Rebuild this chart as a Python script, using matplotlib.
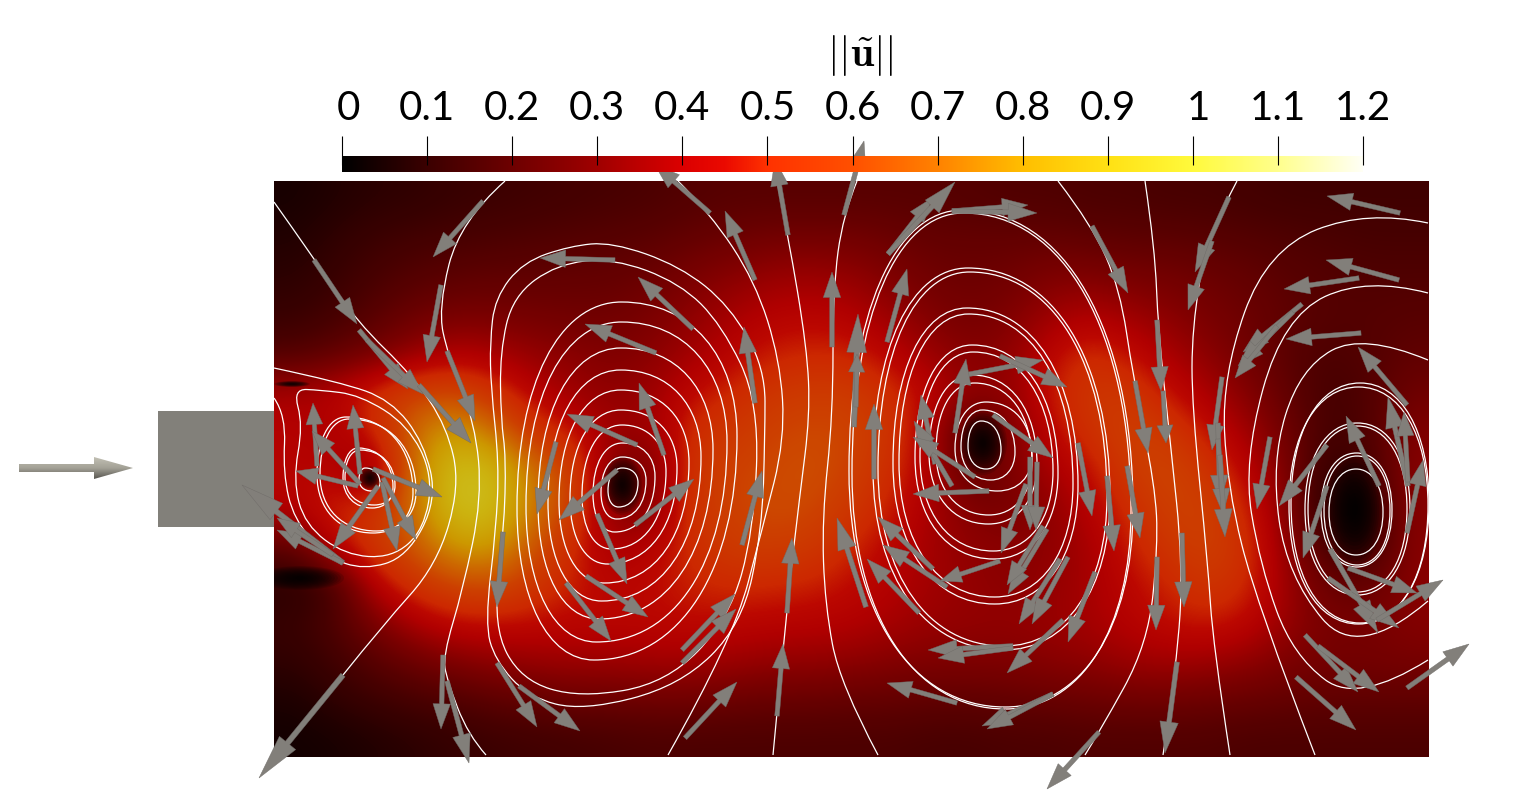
# Velocity magnitude behind a block, with streamlines and glyphs
import numpy as np
import matplotlib
matplotlib.use("Agg")
import matplotlib.pyplot as plt
from matplotlib.colors import LinearSegmentedColormap
from matplotlib.patches import Ellipse, PathPatch, Rectangle
from matplotlib.path import Path

plt.rcParams['font.family'] = ['Lato', 'DejaVu Sans']
plt.rcParams['mathtext.fontset'] = 'cm'

# colour bar
bar_ticks = [0, 0.1, 0.2, 0.3, 0.4, 0.5, 0.6, 0.7, 0.8, 0.9, 1, 1.1, 1.2]
bar_labels = ['0', '0.1', '0.2', '0.3', '0.4', '0.5', '0.6', '0.7', '0.8', '0.9', '1', '1.1', '1.2']
bar_levels = [0, 0.1, 0.2, 0.3, 0.4, 0.45, 0.5, 0.6, 0.7, 0.8, 0.9, 1.0, 1.1, 1.2]
bar_colors = ['#000000', '#3c0000', '#6e0000', '#a00000', '#dc0000', '#eb0a00', '#ff3200', '#ff5000',
              '#ff8200', '#ffbe00', '#ffe114', '#fffa3c', '#ffff8c', '#fffff5']

# speed read on a coarse grid, rows from top to bottom
speed = np.array([
    [.05, .07, .09, .10, .12, .13, .14, .15, .16, .17, .19, .20, .20, .20, .20, .20, .20, .19, .18, .18, .17, .17, .16, .16, .15, .14, .14, .14, .14],
    [.07, .10, .13, .15, .16, .17, .18, .19, .20, .21, .23, .25, .27, .27, .27, .25, .23, .23, .23, .23, .22, .21, .21, .20, .19, .18, .17, .16, .16],
    [.09, .12, .16, .19, .21, .22, .22, .23, .23, .25, .29, .32, .35, .36, .34, .30, .26, .25, .26, .30, .30, .28, .27, .25, .23, .20, .19, .18, .18],
    [.12, .15, .20, .25, .28, .28, .27, .26, .26, .29, .33, .38, .42, .43, .41, .35, .30, .27, .30, .36, .40, .36, .32, .28, .25, .22, .19, .19, .20],
    [.18, .22, .27, .34, .40, .38, .34, .32, .30, .32, .37, .43, .48, .50, .49, .43, .35, .31, .33, .44, .52, .46, .38, .32, .26, .20, .17, .19, .22],
    [.38, .42, .52, .60, .62, .54, .42, .36, .33, .36, .45, .50, .56, .58, .58, .52, .43, .34, .34, .48, .56, .56, .46, .38, .30, .22, .15, .18, .26],
    [.42, .38, .50, .70, .82, .72, .55, .46, .36, .36, .52, .56, .60, .62, .61, .55, .40, .15, .30, .44, .54, .60, .56, .46, .36, .25, .15, .18, .30],
    [.42, .42, .30, .72, .94, .92, .72, .60, .28, .28, .55, .60, .62, .64, .60, .52, .40, .20, .30, .38, .46, .58, .62, .54, .42, .28, .10, .15, .32],
    [.42, .50, .52, .72, .94, .94, .74, .60, .30, .30, .55, .60, .63, .62, .56, .48, .38, .30, .28, .33, .42, .52, .60, .60, .48, .30, .05, .10, .32],
    [.22, .44, .56, .66, .80, .82, .66, .50, .38, .42, .52, .58, .59, .57, .50, .43, .37, .33, .32, .33, .38, .48, .56, .60, .52, .32, .15, .12, .32],
    [.08, .14, .42, .54, .62, .64, .56, .48, .43, .45, .49, .51, .50, .49, .45, .41, .37, .34, .32, .34, .38, .44, .50, .56, .50, .35, .24, .23, .32],
    [.12, .18, .28, .39, .45, .46, .45, .44, .44, .44, .45, .44, .43, .42, .41, .38, .35, .34, .34, .35, .38, .42, .46, .48, .44, .34, .28, .28, .31],
    [.10, .14, .20, .25, .30, .33, .35, .36, .36, .37, .37, .36, .34, .34, .33, .31, .30, .30, .30, .32, .33, .36, .37, .36, .33, .29, .27, .27, .28],
    [.06, .10, .13, .16, .18, .21, .23, .25, .25, .26, .26, .25, .24, .24, .23, .23, .22, .22, .23, .24, .25, .26, .26, .25, .24, .23, .22, .22, .22],
    [.04, .05, .07, .09, .11, .13, .14, .15, .16, .17, .17, .17, .17, .17, .17, .17, .16, .16, .17, .17, .18, .18, .18, .18, .17, .17, .17, .17, .17],
])

# dark cores the coarse grid can't hold: x, y, rx, ry
cores = [(370, 478, 12, 12), (622, 485, 20, 30), (983, 443, 24, 32), (1355, 510, 28, 55),
         (300, 578, 44, 12), (292, 384, 18, 3)]

# closed streamlines around each vortex: left, right, top, bottom
v1_loops = [(359, 380, 468, 491), (343, 393, 448, 508), (345, 395, 450, 505),
            (317, 413, 417, 533), (320, 416, 419, 531)]
v2_loops = [(608, 638, 468, 507), (601, 646, 457, 519), (593, 655, 443, 532), (582, 666, 425, 549),
            (570, 677, 410, 564), (559, 689, 390, 583), (548, 701, 370, 601), (538, 713, 348, 619),
            (526, 727, 322, 642), (517, 737, 302, 660)]
v3_loops = [(968, 1001, 421, 469), (961, 1015, 410, 480), (955, 1032, 402, 491), (936, 1032, 383, 515),
            (929, 1037, 375, 524), (920, 1053, 352, 551), (915, 1058, 345, 559), (899, 1073, 314, 597),
            (893, 1078, 308, 604), (878, 1107, 272, 646), (873, 1110, 268, 650), (849, 1133, 210, 707),
            (852, 1131, 213, 709)]
v4_loops = [(1329, 1383, 469, 555), (1324, 1390, 456, 565), (1321, 1392, 453, 567), (1308, 1407, 426, 592),
            (1305, 1410, 423, 595), (1289, 1428, 387, 624), (1291, 1429, 383, 623)]
# shift of the extreme points: top x, bottom x, left y, right y
v1_lean = (-0.4, 0.17, 0.0, 0.3)
v2_lean = (-0.05, -0.3, 0.15, -0.25)
v3_lean = (-0.2, 0.1, 0.05, 0.2)
v4_lean = (0.0, 0.0, 0.0, 0.0)

# streamlines read point by point
teardrop = [(293, 389), (303, 425), (293, 480), (305, 525), (345, 555), (392, 558), (424, 530),
            (433, 475), (408, 425), (360, 395), (320, 390), (293, 389)]
inlet_loop = [(274, 398), (286, 415), (283, 473), (294, 520), (327, 557), (364, 570), (407, 557),
              (437, 500), (424, 443), (391, 400), (340, 382), (274, 368)]
v2_outer = [(490, 342), (495, 298), (523, 262), (570, 246), (612, 242), (680, 266), (730, 306), (765, 368),
            (765, 435), (762, 530), (742, 625), (680, 686), (583, 711), (528, 697), (495, 660), (485, 623),
            (496, 530), (499, 463), (491, 388), (490, 342)]
v2_inner = [(500, 352), (513, 296), (557, 264), (613, 258), (680, 283), (722, 325), (759, 402), (754, 530),
            (729, 619), (667, 683), (580, 698), (521, 680), (493, 627), (504, 530), (506, 457), (501, 420),
            (500, 352)]
open_lines = [
    [(274, 202), (313, 257), (357, 322), (413, 376), (447, 427), (460, 486), (437, 565), (383, 625), (343, 675)],
    [(505, 181), (460, 221), (438, 308), (448, 356), (475, 423), (482, 498), (463, 589), (443, 656), (447, 680), (468, 735), (486, 755)],
    [(678, 181), (710, 213), (755, 281), (780, 360), (785, 439), (763, 526), (733, 640), (668, 755)],
    [(777, 181), (788, 235), (807, 348), (810, 415), (800, 494), (787, 605), (773, 755)],
    [(857, 181), (843, 215), (833, 289), (833, 415), (822, 518), (825, 605), (840, 684), (878, 755)],
    [(1058, 181), (1092, 225), (1120, 289), (1133, 376), (1155, 486), (1158, 545), (1148, 644), (1100, 731), (1085, 755)],
    [(1145, 181), (1155, 249), (1158, 328), (1170, 439), (1183, 565), (1177, 664), (1163, 755)],
    [(1237, 181), (1207, 237), (1192, 328), (1192, 407), (1208, 565), (1213, 644), (1230, 755)],
    [(1428, 223), (1367, 210), (1267, 249), (1222, 376), (1227, 486), (1257, 605), (1315, 755)],
    [(1428, 293), (1367, 277), (1283, 316), (1243, 462), (1260, 565), (1293, 656), (1358, 704), (1428, 660)],
    [(1428, 360), (1363, 333), (1300, 368), (1271, 462), (1287, 577), (1358, 661), (1428, 601)],
]

# glyphs: tail x, tail y, tip x, tip y
arrows = [
    (343, 675, 259, 778), (483, 201, 433, 257), (314, 260, 357, 324), (441, 285, 427, 362),
    (447, 351, 475, 421), (359, 330, 408, 389), (367, 340, 423, 394), (419, 385, 471, 443),
    (317, 466, 313, 403), (360, 484, 312, 431), (360, 474, 353, 405), (358, 486, 296, 471),
    (373, 469, 442, 497), (378, 486, 333, 549), (382, 482, 397, 551), (383, 478, 416, 540),
    (343, 563, 242, 485), (343, 563, 277, 530), (333, 555, 277, 518), (503, 532, 497, 607),
    (443, 655, 441, 729), (447, 681, 469, 763), (497, 663, 537, 727),
    (710, 213, 655, 165), (788, 235, 775, 160), (844, 215, 864, 141), (755, 280, 725, 211),
    (615, 260, 540, 258), (693, 329, 638, 277), (656, 353, 585, 324), (755, 403, 744, 327),
    (637, 445, 567, 414), (664, 455, 639, 383), (617, 470, 559, 520), (556, 442, 537, 514),
    (635, 525, 694, 479), (597, 514, 627, 584), (586, 576, 648, 617), (566, 583, 611, 641),
    (742, 545, 762, 471), (682, 650, 735, 594), (682, 663, 736, 609), (519, 686, 580, 731),
    (685, 738, 737, 682), (777, 716, 783, 644), (787, 613, 792, 538), (832, 347, 832, 272),
    (854, 427, 858, 314), (856, 407, 857, 354), (874, 479, 874, 404), (866, 607, 837, 518),
    (919, 613, 867, 559), (933, 569, 878, 517), (947, 587, 883, 545), (1000, 561, 940, 581),
    (888, 254, 932, 198), (888, 254, 955, 182), (887, 342, 907, 269), (952, 211, 1028, 205),
    (952, 211, 1037, 213), (965, 375, 1043, 360), (955, 433, 966, 359), (1000, 356, 1067, 387),
    (935, 464, 921, 395), (952, 486, 914, 421), (975, 477, 913, 437), (989, 491, 913, 494),
    (993, 415, 1053, 458), (1013, 646, 928, 650), (1013, 648, 938, 658), (957, 703, 887, 683),
    (1053, 694, 982, 726), (1053, 694, 987, 729),
    (1092, 226, 1128, 293), (1229, 197, 1195, 272), (1212, 241, 1188, 310), (1400, 213, 1327, 196),
    (1399, 280, 1326, 260), (1359, 278, 1284, 289), (1302, 304, 1243, 352), (1293, 312, 1238, 366),
    (1277, 326, 1235, 378), (1361, 333, 1286, 339), (1407, 405, 1358, 347), (1408, 486, 1388, 397),
    (1408, 482, 1404, 412), (1407, 533, 1423, 460), (1379, 486, 1346, 416), (1327, 445, 1279, 506),
    (1327, 486, 1303, 558), (1330, 549, 1378, 633), (1348, 568, 1417, 593), (1328, 578, 1399, 628),
    (1377, 620, 1443, 580), (1305, 635, 1358, 692), (1318, 646, 1379, 692), (1296, 677, 1356, 730),
    (1407, 688, 1469, 644), (1099, 732, 1047, 789), (1177, 662, 1165, 753), (1157, 557, 1156, 630),
    (1182, 533, 1184, 607), (1127, 466, 1140, 538), (1107, 476, 1114, 551), (1078, 443, 1092, 516),
    (1135, 381, 1148, 453), (1157, 320, 1161, 391), (1163, 391, 1166, 443), (1222, 377, 1212, 450),
    (1218, 423, 1220, 502), (1218, 439, 1223, 514), (1220, 455, 1225, 537), (1270, 437, 1257, 509),
    (1030, 457, 1030, 530), (1037, 462, 1036, 530), (1026, 484, 1001, 553), (1047, 529, 1008, 594),
    (1043, 526, 1007, 585), (1060, 559, 1019, 624), (1068, 557, 1032, 624), (1095, 572, 1068, 642),
    (1063, 620, 1007, 673),
]

fig = plt.figure(figsize=(15.33, 8.09), dpi=100)
ax = fig.add_axes([0, 0, 1, 1])

# colour map of the bar, the field is drawn with the same one but lit at 80%
bar_cmap = LinearSegmentedColormap.from_list(
    'bar', [(v / 1.2, c) for v, c in zip(bar_levels, bar_colors)], N=512)
field_cmap = LinearSegmentedColormap.from_list(
    'field', bar_cmap(np.linspace(0, 1, 512)) * np.array([0.8, 0.8, 0.8, 1]), N=512)

field = ax.imshow(speed, extent=(274, 1429, 757, 181), cmap=field_cmap, vmin=0, vmax=1.2,
                  interpolation='bicubic', interpolation_stage='data', aspect='auto', zorder=1)
field_box = Rectangle((274, 181), 1155, 576, transform=ax.transData)

for x, y, rx, ry in cores:
    for f in np.linspace(1, 0.1, 14):
        core = Ellipse((x, y), 2 * rx * f, 2 * ry * f, fc='black', ec='none', alpha=0.13, zorder=2)
        ax.add_patch(core)
        core.set_clip_path(field_box)


def smooth_path(pts):
    # quadratic pieces through the midpoints of the read points
    pts = np.array(pts, dtype=float)
    closed = np.all(pts[0] == pts[-1])
    if closed:
        pts = np.vstack([(pts[-2] + pts[0]) / 2, pts[:-1], (pts[-2] + pts[0]) / 2])
    verts = [pts[0]]
    codes = [Path.MOVETO]
    for i in range(1, len(pts) - 1):
        verts += [pts[i], (pts[i] + pts[i + 1]) / 2]
        codes += [Path.CURVE3, Path.CURVE3]
    verts[-1] = pts[-1]
    return Path(verts, codes)


def loop_path(l, r, t, b, lean, k=0.6):
    xc, yc = (l + r) / 2, (t + b) / 2
    w, h = (r - l) / 2, (b - t) / 2
    xt = xc + lean[0] * w
    xb = xc + lean[1] * w
    yl = yc + lean[2] * h
    yr = yc + lean[3] * h
    verts = [(xt, t),
             (xt + k * (r - xt), t), (r, yr - k * (yr - t)), (r, yr),
             (r, yr + k * (b - yr)), (xb + k * (r - xb), b), (xb, b),
             (xb - k * (xb - l), b), (l, yl + k * (b - yl)), (l, yl),
             (l, yl - k * (yl - t)), (xt - k * (xt - l), t), (xt, t)]
    codes = [Path.MOVETO] + [Path.CURVE4] * 12
    return Path(verts, codes)


for loops, lean in [(v1_loops, v1_lean), (v2_loops, v2_lean), (v3_loops, v3_lean), (v4_loops, v4_lean)]:
    for l, r, t, b in loops:
        ax.add_patch(PathPatch(loop_path(l, r, t, b, lean), fc='none', ec='white', lw=0.9, zorder=3))

for pts in [teardrop, inlet_loop, v2_outer, v2_inner] + open_lines:
    ax.add_patch(PathPatch(smooth_path(pts), fc='none', ec='white', lw=0.9, zorder=3))

# the block and the inlet arrow
ax.add_patch(Rectangle((158, 411), 116, 116, fc='#82807a', ec='none', zorder=3))
inlet = ax.arrow(19, 468, 114, 0, width=8, head_width=22, head_length=39,
                 length_includes_head=True, fc='none', ec='none', zorder=4)
grad = ax.imshow(np.linspace(0, 1, 24)[:, None], extent=(19, 133, 480, 456), aspect='auto', zorder=4,
                 cmap=LinearSegmentedColormap.from_list('steel', ['#c4c2b6', '#a3a196', '#54524d']))
grad.set_clip_path(inlet)

for x0, y0, x1, y1 in arrows:
    length = np.hypot(x1 - x0, y1 - y0)
    ax.arrow(x0, y0, x1 - x0, y1 - y0, width=3.5 + 0.015 * length, head_width=13 + 0.06 * length,
             head_length=0.34 * length, length_includes_head=True, fc='#827f7a', ec='#6e6b67', lw=0.3, zorder=5)

# colour bar on top of the glyphs
ticks_x = 342 + np.array(bar_ticks) * (1363 - 342) / 1.2
ax.imshow(np.linspace(0, 1.2, 512)[None, :], extent=(342, 1363, 172, 156), cmap=bar_cmap,
          vmin=0, vmax=1.2, aspect='auto', zorder=6)
ax.vlines(ticks_x, 136, 165, color='black', lw=0.8, zorder=7)
for x, lab in zip(ticks_x, bar_labels):
    shift = 6 if lab in ('0', '1') else 0
    ax.text(x + shift, 120, lab, ha='center', va='baseline', fontsize=29, color='black', zorder=7)
ax.text(860, 66, r'$||\tilde{\mathbf{u}}||$', ha='center', va='baseline', fontsize=30, color='black', zorder=7)

ax.set_xlim(0, 1533)
ax.set_ylim(809, 0)
ax.axis('off')

fig.savefig('out.png', dpi=100, facecolor='white')
